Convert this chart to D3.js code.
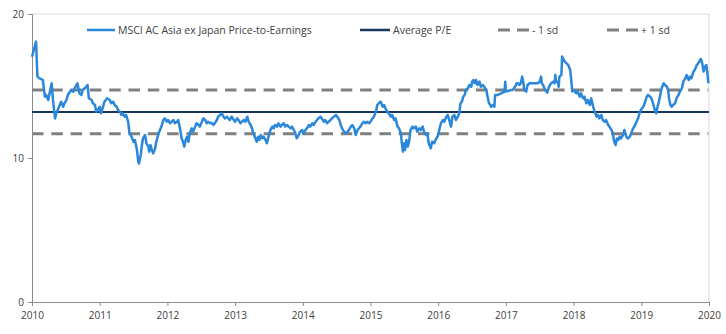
<!DOCTYPE html>
<html>
<head>
<meta charset="utf-8">
<script src="https://cdn.jsdelivr.net/npm/d3@7"></script>
<style>
  body { margin: 0; background: #fff; }
  text { font-family: "Open Sans", "Liberation Sans", sans-serif; fill: #404040; }
</style>
</head>
<body>
<div id="chart"></div>
<script>
// MSCI AC Asia ex Japan forward P/E (decimal year, value)
var peYear = [
  2010.00,2010.06,2010.08,2010.11,2010.16,2010.19,2010.21,2010.24,2010.26,2010.29,2010.31,2010.34,2010.36,2010.38,2010.41,2010.43,
  2010.46,2010.48,2010.51,2010.53,2010.56,2010.58,2010.61,2010.63,2010.67,2010.70,2010.73,2010.75,2010.78,2010.82,2010.84,2010.88,
  2010.90,2010.93,2010.95,2010.97,2011.00,2011.02,2011.05,2011.07,2011.11,2011.15,2011.17,2011.20,2011.22,2011.25,2011.27,2011.30,
  2011.32,2011.34,2011.37,2011.39,2011.42,2011.44,
  2011.47,2011.50,2011.52,2011.55,2011.57,2011.58,2011.61,2011.62,2011.64,2011.67,2011.69,2011.72,2011.73,2011.75,2011.77,2011.79,
  2011.82,2011.83,2011.85,2011.87,2011.89,2011.92,2011.94,2011.96,2011.99,2012.01,2012.04,2012.06,2012.09,2012.11,2012.14,2012.16,
  2012.19,2012.21,2012.23,2012.25,2012.27,2012.29,2012.31,2012.33,2012.36,2012.38,2012.41,2012.43,2012.46,2012.48,2012.51,2012.53,
  2012.56,2012.58,2012.60,2012.63,2012.65,2012.68,2012.70,2012.73,2012.75,2012.78,2012.80,2012.83,2012.85,2012.88,2012.90,2012.92,
  2012.95,
  2012.98,2013.00,2013.03,2013.05,2013.08,2013.10,2013.13,2013.15,2013.18,2013.20,2013.23,2013.25,2013.27,2013.30,2013.32,2013.34,
  2013.36,2013.38,2013.40,2013.42,2013.45,2013.47,2013.50,2013.52,2013.55,2013.57,2013.59,2013.62,2013.64,2013.67,2013.69,2013.72,
  2013.74,2013.77,2013.79,2013.82,2013.84,2013.87,2013.89,2013.91,2013.94,2013.96,2013.99,2014.01,2014.04,2014.06,2014.09,2014.11,
  2014.14,2014.16,2014.19,2014.21,2014.23,2014.26,2014.28,2014.31,2014.33,2014.36,2014.38,2014.41,2014.43,
  2014.46,2014.49,2014.51,2014.54,2014.56,2014.58,2014.61,2014.63,2014.66,2014.68,2014.71,2014.73,2014.76,2014.78,2014.81,2014.83,
  2014.85,2014.88,2014.90,2014.93,2014.95,2014.98,2015.00,2015.03,2015.05,2015.08,2015.10,2015.13,2015.15,2015.18,2015.20,2015.22,
  2015.25,2015.27,2015.30,2015.32,2015.35,2015.37,2015.40,2015.42,2015.45,2015.46,2015.48,2015.50,2015.51,2015.53,2015.55,2015.57,
  2015.59,2015.62,2015.64,2015.67,2015.69,2015.72,2015.74,2015.77,2015.79,2015.82,2015.84,2015.86,2015.89,2015.91,2015.94,2015.96,
  2015.99,2016.01,
  2016.04,2016.07,2016.09,2016.12,2016.14,2016.17,2016.19,2016.21,2016.24,2016.26,2016.29,2016.31,2016.33,2016.35,2016.37,2016.39,
  2016.41,2016.44,2016.46,2016.49,2016.50,2016.52,2016.54,2016.56,2016.58,2016.61,2016.63,2016.66,2016.68,2016.71,2016.73,2016.75,
  2016.77,2016.78,2016.81,2016.83,2016.84,2016.88,2016.93,2016.98,2016.99,2017.00,2017.08,2017.10,2017.12,2017.15,2017.16,2017.18,
  2017.20,2017.22,2017.24,2017.26,2017.27,2017.30,2017.32,2017.35,2017.45,2017.47,
  2017.50,2017.52,2017.53,2017.55,2017.57,2017.60,2017.61,2017.63,2017.65,2017.67,2017.70,2017.72,2017.73,2017.74,2017.77,2017.78,
  2017.79,2017.82,2017.83,2017.87,2017.92,2017.95,2017.97,2017.98,2017.99,2018.02,2018.04,2018.06,2018.09,2018.11,2018.14,2018.16,
  2018.19,2018.21,2018.24,2018.26,2018.29,2018.31,2018.34,2018.36,2018.38,2018.41,2018.43,2018.46,2018.48,2018.51,2018.53,2018.56,
  2018.58,2018.60,2018.62,2018.64,2018.66,2018.68,2018.70,2018.73,2018.75,2018.78,2018.80,2018.83,2018.85,
  2018.88,2018.91,2018.93,2018.96,2018.98,2019.01,2019.03,2019.05,2019.08,2019.10,2019.13,2019.15,2019.18,2019.20,2019.22,2019.24,
  2019.26,2019.28,2019.30,2019.33,2019.35,2019.38,2019.40,2019.41,2019.43,2019.45,2019.47,2019.50,2019.52,2019.55,2019.57,2019.60,
  2019.62,2019.65,2019.67,2019.70,2019.72,2019.74,2019.77,2019.79,2019.82,2019.84,2019.87,2019.88,2019.90,2019.92,2019.94,2019.96,
  2019.98,2019.99
];
var peValue = [
  17.03,18.08,15.65,15.53,15.42,14.26,14.38,14.03,14.49,15.19,14.03,12.75,13.10,13.33,13.68,13.91,
  13.56,13.80,14.03,14.38,14.60,14.72,14.60,14.84,15.19,14.49,14.38,14.72,14.84,15.07,14.15,14.03,
  13.80,13.68,13.22,13.33,13.56,13.10,13.56,13.91,14.15,14.03,13.80,13.91,13.68,13.56,13.33,13.22,
  12.99,13.10,12.87,12.99,12.52,11.72,
  11.48,11.13,11.25,10.56,9.74,9.62,10.32,10.79,11.37,11.60,11.02,10.79,10.44,10.90,10.56,10.32,
  10.67,11.02,11.37,11.72,11.94,12.29,12.64,12.75,12.52,12.64,12.41,12.52,12.64,12.41,12.52,12.64,
  11.94,11.37,11.13,10.79,11.25,11.48,11.13,11.72,12.06,11.83,12.18,12.41,12.29,12.18,12.52,12.75,
  12.64,12.41,12.52,12.41,12.45,12.29,12.41,12.64,12.87,12.99,13.10,12.87,12.75,12.87,12.75,12.64,
  12.87,
  12.64,12.52,12.75,12.64,12.41,12.52,12.64,12.52,12.87,12.52,12.29,12.06,11.71,11.37,11.13,11.48,
  11.25,11.60,11.37,11.48,11.25,11.02,11.60,11.94,12.18,12.06,12.29,12.18,12.41,12.18,12.29,12.41,
  12.18,12.29,12.18,12.06,12.18,11.94,11.71,11.37,11.60,11.83,11.94,11.71,11.94,12.06,12.29,12.18,
  12.41,12.29,12.52,12.64,12.75,12.87,12.75,12.52,12.64,12.41,12.52,12.64,12.75,
  12.87,12.99,12.87,12.64,12.29,12.06,11.83,11.71,11.83,11.94,12.18,12.29,12.06,11.60,11.94,12.06,
  12.18,12.41,12.52,12.41,12.52,12.41,12.52,12.75,12.87,13.22,13.68,13.84,13.91,13.56,13.68,13.45,
  13.22,13.10,12.87,12.99,12.64,12.75,12.18,12.06,11.71,11.13,10.44,11.02,10.56,11.25,10.79,11.13,
  11.94,12.18,12.06,12.18,11.83,12.06,11.94,12.18,11.83,11.60,11.71,11.02,10.67,11.13,11.02,11.25,
  11.48,11.83,
  12.41,12.64,12.52,12.87,12.99,12.52,12.18,12.87,12.99,12.64,12.87,13.10,13.80,13.91,14.26,14.38,
  14.72,14.84,15.07,14.95,15.30,15.42,15.19,15.42,15.07,15.30,14.95,15.07,14.95,14.72,14.26,13.80,
  13.68,13.56,13.68,13.56,14.38,14.38,14.49,14.61,15.30,14.61,14.72,14.72,14.84,15.07,15.19,15.19,
  15.07,15.19,15.65,15.19,14.72,14.61,15.07,15.19,15.19,15.19,
  15.30,15.65,15.19,15.07,14.84,14.61,14.54,14.84,15.07,15.19,15.30,15.19,15.77,15.30,15.30,14.95,
  15.65,15.77,17.04,16.69,16.46,16.11,15.19,14.61,14.72,14.61,14.49,14.61,14.26,14.49,14.14,14.26,
  13.80,14.03,13.68,14.14,13.56,13.22,12.87,12.99,12.75,12.99,12.64,12.52,12.64,12.29,12.18,11.94,
  11.71,11.13,10.90,11.36,11.25,11.48,11.36,11.60,11.94,11.48,11.36,11.48,11.71,
  12.06,12.29,12.52,12.87,13.22,13.45,13.56,13.80,14.26,14.38,14.26,14.14,13.68,13.33,13.10,13.56,
  13.91,14.38,14.84,15.19,15.07,14.95,14.61,14.14,13.68,13.56,13.68,13.80,14.14,14.38,14.61,14.84,
  15.30,15.53,15.76,15.42,15.65,15.53,16.00,16.11,16.46,16.57,16.81,16.88,16.57,16.00,16.34,16.46,
  15.76,15.19
];

var avgPE = 13.2, sdPE = 1.52;
var yearTicks = [2010, 2011, 2012, 2013, 2014, 2015, 2016, 2017, 2018, 2019, 2020];
var peTicks = [0, 10, 20];
var legendNames = ["MSCI AC Asia ex Japan Price-to-Earnings", "Average P/E", "- 1 sd", "+ 1 sd"];

var W = 726, H = 334,
    margin = {top: 14, right: 17, bottom: 32, left: 32},
    width = W - margin.left - margin.right,
    height = H - margin.top - margin.bottom;

var blue = "#2b87da", navy = "#17375e", grey = "#808080";

var svg = d3.select("#chart").append("svg").attr("width", W).attr("height", H),
    g = svg.append("g").attr("transform", "translate(" + margin.left + "," + margin.top + ")");

var x = d3.scaleLinear().domain([2010, 2020]).range([0, width]);
var y = d3.scaleLinear().domain([0, 20]).range([height, 0]);

// light frame top and right
g.append("line").attr("x1", 0).attr("x2", width).attr("y1", 0).attr("y2", 0)
    .attr("stroke", "#d9d9d9").attr("stroke-width", 1);
g.append("line").attr("x1", width).attr("x2", width).attr("y1", 0).attr("y2", height)
    .attr("stroke", "#d9d9d9").attr("stroke-width", 1);

var xAxis = g.append("g").attr("transform", "translate(0," + height + ")")
    .call(d3.axisBottom(x).tickValues(yearTicks).tickFormat(d3.format("d")).tickSize(4).tickPadding(6));
var yAxis = g.append("g")
    .call(d3.axisLeft(y).tickValues(peTicks).tickSize(4).tickPadding(4));

[xAxis, yAxis].forEach(function(a){
  a.select(".domain").attr("stroke", "#8c8c8c");
  a.selectAll(".tick line").attr("stroke", "#8c8c8c");
  a.selectAll("text").attr("font-size", 10).attr("fill", "#404040")
      .style("font-family", "'Open Sans', sans-serif");
});

// reference lines
var lastYear = peYear[peYear.length - 1];
[avgPE - sdPE, avgPE + sdPE].forEach(function(v){
  g.append("line").attr("x1", x(2010)).attr("x2", x(lastYear))
      .attr("y1", y(v)).attr("y2", y(v))
      .attr("stroke", grey).attr("stroke-width", 3).attr("stroke-dasharray", "11.5,7.8");
});
g.append("line").attr("x1", x(2010)).attr("x2", x(2020))
    .attr("y1", y(avgPE)).attr("y2", y(avgPE))
    .attr("stroke", navy).attr("stroke-width", 2);

var data = peYear.map(function(d, i){ return {t: d, v: peValue[i]}; });
var line = d3.line().x(function(d){ return x(d.t); }).y(function(d){ return y(d.v); });
g.append("path").datum(data)
    .attr("fill", "none").attr("stroke", blue).attr("stroke-width", 2.5)
    .attr("stroke-linejoin", "round").attr("d", line);

// legend
var legendX = [87, 360, 498, 607], legendY = 30;
var legendStyle = [
  {stroke: blue, w: 2.5, dash: null, len: 28},
  {stroke: navy, w: 2.5, dash: null, len: 30},
  {stroke: grey, w: 3, dash: "12,7", len: 31},
  {stroke: grey, w: 3, dash: "12,7", len: 31}
];
var leg = svg.append("g");
legendNames.forEach(function(name, i){
  var s = legendStyle[i];
  leg.append("line").attr("x1", legendX[i]).attr("x2", legendX[i] + s.len)
      .attr("y1", legendY).attr("y2", legendY)
      .attr("stroke", s.stroke).attr("stroke-width", s.w).attr("stroke-dasharray", s.dash);
  leg.append("text").attr("x", legendX[i] + s.len + 3).attr("y", legendY + 3.5)
      .attr("font-size", 10.5).text(name);
});
</script>
</body>
</html>
